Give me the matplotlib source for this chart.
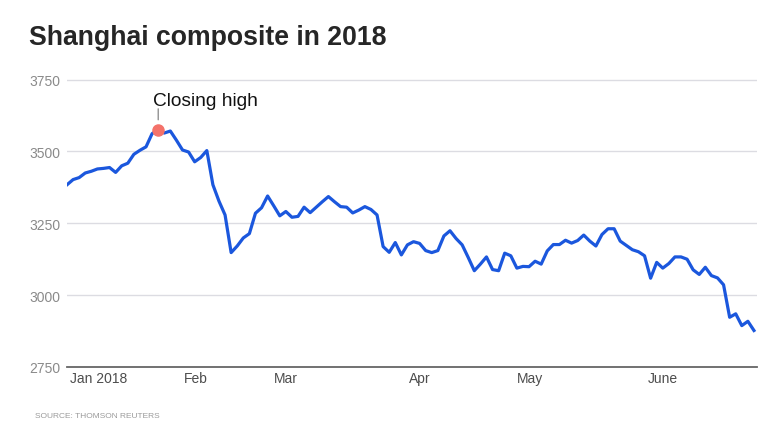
import matplotlib
matplotlib.use('Agg')
import matplotlib.pyplot as plt

# Shanghai composite closes, one value per trading session
closes = [3384, 3402, 3409, 3425, 3431, 3439, 3441, 3444, 3427, 3450,
          3459, 3490, 3504, 3516, 3562, 3576, 3564, 3571, 3539, 3505,
          3498, 3464, 3479, 3503, 3384, 3327, 3279, 3148, 3171, 3199,
          3214, 3285, 3304, 3345, 3311, 3276, 3291, 3271, 3274, 3306,
          3287, 3306, 3325, 3343, 3325, 3308, 3306, 3286, 3296, 3308,
          3298, 3279, 3169, 3149, 3183, 3140, 3175, 3186, 3180, 3155,
          3148, 3155, 3206, 3224, 3197, 3175, 3131, 3085, 3108, 3133,
          3089, 3085, 3146, 3137, 3094, 3100, 3099, 3118, 3108, 3154,
          3176, 3176, 3191, 3181, 3190, 3209, 3188, 3171, 3211, 3231,
          3231, 3188, 3173, 3158, 3151, 3137, 3059, 3114, 3094, 3110,
          3133, 3133, 3125, 3088, 3072, 3097, 3068, 3060, 3036, 2923,
          2935, 2894, 2909, 2877]
high_idx = 15

month_pos = [0.5, 19.3, 34.1, 56.2, 74.0, 95.5]
month_labels = ['Jan 2018', 'Feb', 'Mar', 'Apr', 'May', 'June']
y_ticks = [2750, 3000, 3250, 3500, 3750]

plt.rcParams['font.family'] = ['Liberation Sans', 'DejaVu Sans']

fig = plt.figure(figsize=(7.8, 4.39), dpi=100)
ax = fig.add_axes([67/780, 71/439, 690/780, 288/439])

x = list(range(len(closes)))
ax.plot(x, closes, color='#1b57dd', linewidth=2.3, solid_joinstyle='round', zorder=3)
ax.plot(high_idx, closes[high_idx], 'o', color='#f4726a', markersize=8, zorder=4)

ax.annotate('', xy=(high_idx, closes[high_idx]), xytext=(0, 15), textcoords='offset points',
            arrowprops=dict(arrowstyle='-', color='#777777', lw=0.8, shrinkA=0, shrinkB=7))
ax.annotate('Closing high', xy=(high_idx, closes[high_idx]), xytext=(-3.4, 18),
            textcoords='offset points', ha='left', va='baseline', fontsize=13.8, color='#111111')

ax.set_xlim(0, 113.5)
ax.set_ylim(2750, 3752)
ax.set_yticks(y_ticks)
ax.set_xticks(month_pos, month_labels)
for lbl in ax.get_xticklabels():
    lbl.set_ha('left')

ax.grid(True, axis='y', color='#dcdce2', linewidth=1)
ax.set_axisbelow(True)
for s in ['top', 'right', 'left']:
    ax.spines[s].set_visible(False)
ax.spines['bottom'].set_color('#666666')
ax.spines['bottom'].set_linewidth(1.3)
ax.tick_params(axis='y', length=0, pad=4.5, labelsize=10, labelcolor='#8a8a8a')
ax.tick_params(axis='x', length=0, pad=3, labelsize=10, labelcolor='#4d4d4d')

fig.text(29/780, 1 - 45/439, 'Shanghai composite in 2018', fontsize=19.2, fontweight='bold',
         color='#262626', va='baseline', ha='left')
fig.text(35/780, 1 - 416.7/439, 'SOURCE: THOMSON REUTERS', fontsize=6, color='#9a9a9a',
         va='center', ha='left')

fig.savefig('out.png', dpi=100)
plt.close(fig)
